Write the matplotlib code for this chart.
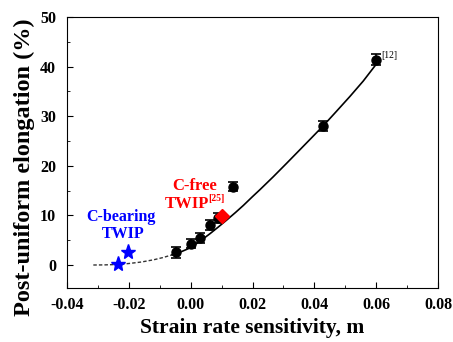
import numpy as np
import matplotlib.pyplot as plt

plt.rcParams['font.family'] = ['Liberation Serif', 'DejaVu Serif']
plt.rcParams['font.weight'] = 'bold'
plt.rcParams['axes.labelweight'] = 'bold'

# measured data (black circles with error bars)
m_data = [-0.0049, 0.0000, 0.0030, 0.0062, 0.0088, 0.0138, 0.0429, 0.0599]
elong_data = [2.6, 4.3, 5.5, 8.1, 9.4, 15.8, 28.1, 41.4]
elong_err = [1.1, 0.9, 1.0, 1.0, 1.0, 0.9, 1.0, 1.1]

# C-free TWIP [25]
m_cfree = [0.0101]
elong_cfree = [9.9]

# C-bearing TWIP
m_cbear = [-0.0234, -0.0202]
elong_cbear = [0.2, 2.7]

# fit line
m_dash = [-0.0315, -0.0280, -0.0240, -0.0200, -0.0160, -0.0120, -0.0090, -0.0060]
y_dash = [0.0, 0.02, 0.1, 0.3, 0.6, 1.05, 1.5, 2.05]
m_fit = [-0.0060, -0.0030, 0.0000, 0.0030, 0.0062, 0.0090, 0.0117, 0.0145, 0.0170,
         0.0200, 0.0224, 0.0267, 0.0310, 0.0354, 0.0390, 0.0429, 0.0470, 0.0515,
         0.0558, 0.0600]
y_fit = [2.05, 2.7, 3.5, 4.8, 6.3, 7.7, 9.1, 10.6, 12.0, 13.8, 15.2, 17.8, 20.5,
         23.3, 25.6, 28.1, 30.9, 34.0, 37.1, 40.5]

fig = plt.figure(figsize=(4.53, 3.42), dpi=100)
ax = fig.add_axes([0.148, 0.157, 0.819, 0.793])

ax.plot(m_dash, y_dash, color='#333333', lw=1.0, ls=(0, (2.5, 1.5)))
ax.plot(m_fit, y_fit, color='black', lw=1.2)

ax.errorbar(m_data, elong_data, yerr=elong_err, fmt='o', color='black',
            markersize=6.5, capsize=3.5, elinewidth=1.2, capthick=1.2, zorder=4)
ax.plot(m_cfree, elong_cfree, 'D', color='red', markersize=7, zorder=5)
ax.plot(m_cbear, elong_cbear, '*', color='blue', markersize=11, zorder=5)

ax.text(0.0615, 42.3, '[12]', fontsize=7, fontweight='normal', ha='left', va='center')
ax.text(0.0013, 16.0, 'C-free', color='red', fontsize=12, ha='center', va='center')
ax.text(-0.0012, 12.3, 'TWIP', color='red', fontsize=12, ha='center', va='center')
ax.text(0.0058, 13.5, '[25]', color='red', fontsize=7, ha='left', va='center')
ax.text(-0.0227, 9.7, 'C-bearing', color='blue', fontsize=11.5, ha='center', va='center')
ax.text(-0.0218, 6.2, 'TWIP', color='blue', fontsize=11.5, ha='center', va='center')

ax.set_xlim(-0.04, 0.08)
ax.set_ylim(-4.7, 50)
ax.set_xticks(np.arange(-0.04, 0.081, 0.02))
ax.set_xticks(np.arange(-0.04, 0.081, 0.01), minor=True)
ax.set_yticks(np.arange(0, 51, 10))
ax.set_yticks(np.arange(0, 51, 5), minor=True)
ax.set_xticklabels(['-0.04', '-0.02', '0.00', '0.02', '0.04', '0.06', '0.08'])
ax.tick_params(which='both', direction='in', top=False, right=False, labelsize=11.5)
ax.tick_params(which='major', length=4)
ax.tick_params(which='minor', length=2.5)
ax.tick_params(axis='x', which='major', pad=6)
ax.tick_params(axis='y', which='major', pad=8)

ax.set_xlabel('Strain rate sensitivity, m', fontsize=15.5, va='center')
ax.set_ylabel('Post-uniform elongation (%)', fontsize=17.5, va='center')
ax.xaxis.set_label_coords(0.5, -0.148)
ax.yaxis.set_label_coords(-0.116, 0.446)

fig.savefig('out.png', dpi=100)
